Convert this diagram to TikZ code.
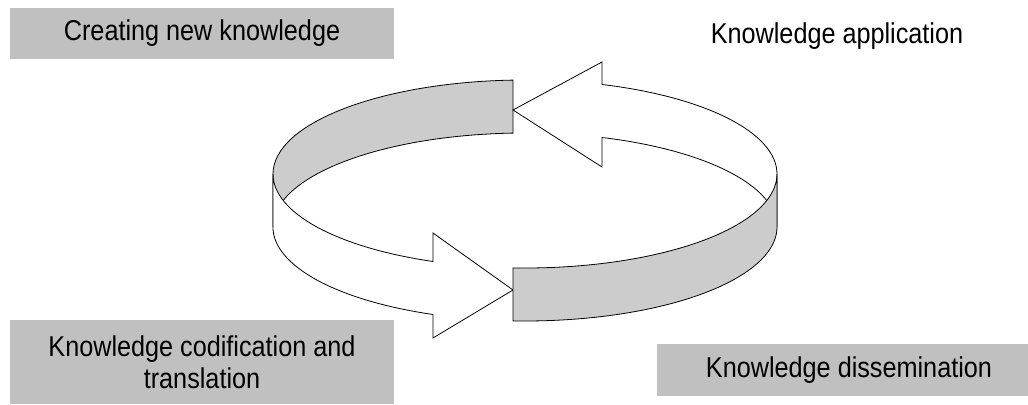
\documentclass[tikz,border=0pt]{standalone}
\usepackage{fontspec}
\setmainfont[FakeStretch=0.88]{Liberation Sans}
\definecolor{boxgrey}{RGB}{192,192,192}
\definecolor{bandgrey}{RGB}{204,204,204}
\tikzstyle{label} = [font=\fontsize{21.5}{24}\selectfont, align=center, inner sep=0pt]
\tikzstyle{stage} = [label, fill=boxgrey, minimum width=288pt]
\tikzstyle{band} = [draw, line width=0.6pt, line join=miter]

\begin{document}
\begin{tikzpicture}[x=0.75pt, y=0.75pt]
	\useasboundingbox (0,0) rectangle (1028,404);
	% ellipse centres of the ribbon edges
	\coordinate (rimtop) at (525,230);
	\coordinate (rimbot) at (525,177);

	% back half of the ribbon
	\path[band, fill=bandgrey] (513,323.9) arc[start angle=92.73, end angle=180, x radius=252, y radius=94]
		-- (273,177) arc[start angle=180, end angle=92.73, x radius=252, y radius=94] -- cycle;
	\path[band, fill=white] (777,230) arc[start angle=0, end angle=72.2, x radius=252, y radius=94]
		-- (602,342) -- (513,294) -- (602,237) -- (602,266.5)
		arc[start angle=72.2, end angle=0, x radius=252, y radius=94] -- cycle;

	% front half of the ribbon
	\path[band, fill=white] (273,230) arc[start angle=180, end angle=248.6, x radius=252, y radius=94]
		-- (433,171) -- (513,114) -- (433,66) -- (433,89.5)
		arc[start angle=248.6, end angle=180, x radius=252, y radius=94] -- cycle;
	\path[band, fill=bandgrey] (513,136.1) arc[start angle=267.27, end angle=360, x radius=252, y radius=94]
		-- (777,177) arc[start angle=360, end angle=267.27, x radius=252, y radius=94] -- cycle;

	\node[stage, minimum height=38.25pt] (create) at (202,370.5) {Creating new knowledge};
	\node[label] (apply) at (837,368) {Knowledge application};
	\node[stage, minimum height=63pt] (codify) at (202,42) {Knowledge codification and\\translation};
	\node[stage, minimum height=39pt] (spread) at (849,34) {Knowledge dissemination};
\end{tikzpicture}
\end{document}
